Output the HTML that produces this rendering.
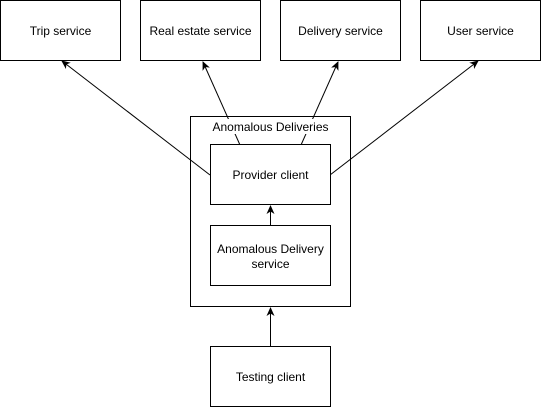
<!DOCTYPE html>
<html><head><style>
body{margin:0;background:#fff;}
svg text{font-family:"Liberation Sans",sans-serif;font-size:12px;fill:#000;}
</style></head><body>
<svg width="541" height="407" viewBox="0 0 541 407" xmlns="http://www.w3.org/2000/svg">
<defs><marker id="a" markerWidth="10" markerHeight="10" refX="8" refY="4" orient="auto" markerUnits="userSpaceOnUse"><path d="M0,0 L9,4 L0,8 L2.5,4 Z" fill="#000"/></marker></defs>
<g fill="#fff" stroke="#000">
<rect x="0.5" y="0.5" width="120" height="60"/>
<rect x="140.5" y="0.5" width="120" height="60"/>
<rect x="280.5" y="0.5" width="120" height="60"/>
<rect x="420.5" y="0.5" width="120" height="60"/>
<rect x="190.5" y="116.5" width="160" height="190"/>
</g>
<g stroke="#000" fill="none">
<line x1="210" y1="175" x2="62" y2="61" marker-end="url(#a)"/>
<line x1="240" y1="145" x2="203" y2="62" marker-end="url(#a)"/>
<line x1="301" y1="145" x2="338" y2="62" marker-end="url(#a)"/>
<line x1="330" y1="175" x2="478" y2="61" marker-end="url(#a)"/>
<line x1="270.5" y1="225" x2="270.5" y2="206" marker-end="url(#a)"/>
<line x1="270.5" y1="346" x2="270.5" y2="308" marker-end="url(#a)"/>
</g>
<rect x="211" y="119" width="120" height="15" fill="#fff"/>
<g fill="#fff" stroke="#000">
<rect x="210.5" y="144.5" width="120" height="60"/>
<rect x="210.5" y="225.5" width="120" height="60"/>
<rect x="210.5" y="346.5" width="120" height="60"/>
</g>
<g text-anchor="middle">
<text x="60.5" y="35">Trip service</text>
<text x="200.5" y="35">Real estate service</text>
<text x="340.5" y="35">Delivery service</text>
<text x="480.5" y="35">User service</text>
<text x="270.5" y="131">Anomalous Deliveries</text>
<text x="270.5" y="179">Provider client</text>
<text x="270.5" y="253">Anomalous Delivery</text>
<text x="270.5" y="268">service</text>
<text x="270.5" y="381">Testing client</text>
</g>
</svg>
</body></html>
